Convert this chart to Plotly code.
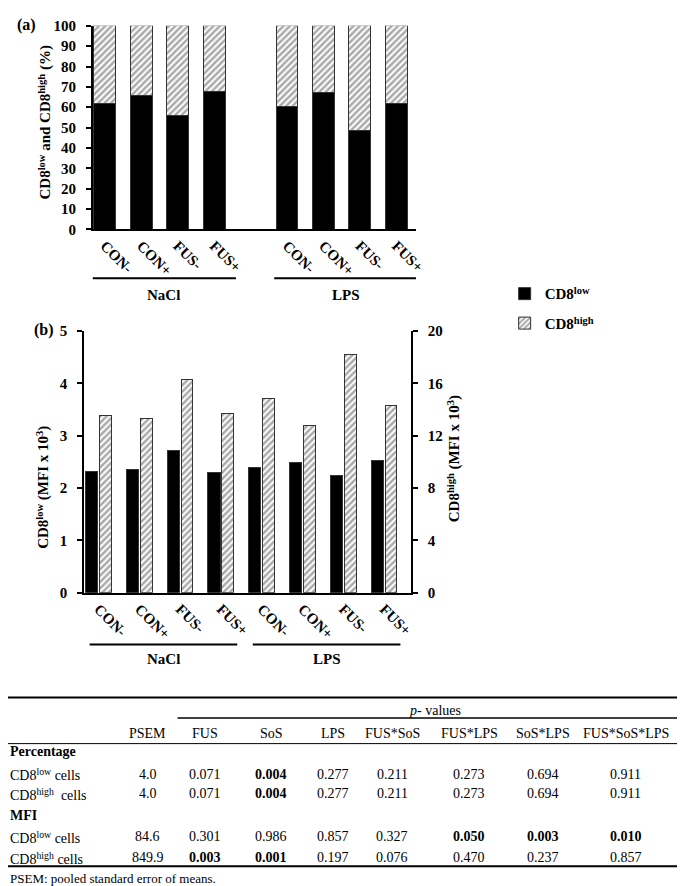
import plotly.graph_objects as go

W, H = 685, 886


def fx(px):
    return px / W


def fy(py):
    return 1 - py / H


def sup(s):
    return f'<span style="font-size:70%;baseline-shift:super">{s}</span>'


# ---------------- data ----------------
groups = ["NaCl", "LPS"]
treatments = ["CON-", "CON+", "FUS-", "FUS+"]

# (a) percentage of CD8 low / high cells (stacked to 100 %)
pct_low = [61.8, 65.7, 55.8, 67.8, 60.6, 67.3, 48.5, 61.9]
pct_high = [38.2, 34.3, 44.2, 32.2, 39.4, 32.7, 51.5, 38.1]

# (b) MFI (x 10^3)
mfi_low = [2.31, 2.35, 2.72, 2.30, 2.39, 2.48, 2.23, 2.53]
mfi_high = [13.5, 13.3, 16.3, 13.7, 14.8, 12.8, 18.2, 14.3]

series_names = ["CD8" + sup("low"), "CD8" + sup("high")]

# table
table_cols = ["PSEM", "FUS", "SoS", "LPS", "FUS*SoS", "FUS*LPS", "SoS*LPS", "FUS*SoS*LPS"]
sections = ["Percentage", "MFI"]
row_labels = ["CD8" + sup("low") + " cells", "CD8" + sup("high") + "  cells",
              "CD8" + sup("low") + " cells", "CD8" + sup("high") + " cells"]
psem = [4.0, 4.0, 84.6, 849.9]
p_values = [
    [0.071, 0.004, 0.277, 0.211, 0.273, 0.694, 0.911],
    [0.071, 0.004, 0.277, 0.211, 0.273, 0.694, 0.911],
    [0.301, 0.986, 0.857, 0.327, 0.050, 0.003, 0.010],
    [0.003, 0.001, 0.197, 0.076, 0.470, 0.237, 0.857],
]
footnote = "PSEM: pooled standard error of means."

# ---------------- styles ----------------
FONT = "Liberation Serif"
FS = 15
BLACK = "#000000"
HATCH = dict(shape="/", fgcolor="#555555", bgcolor="white", size=4.5, solidity=0.55)
OUTLINE = dict(color="#333333", width=1)

labels = [t for g in groups for t in treatments]
# category positions: panel (a) leaves one empty slot between groups
xa = [g * (len(treatments) + 1) + i for g in range(len(groups)) for i in range(len(treatments))]
xb = [g * len(treatments) + i for g in range(len(groups)) for i in range(len(treatments))]

fig = go.Figure()

# panel (a)
fig.add_trace(go.Bar(x=xa, y=pct_low, name=series_names[0], width=0.6,
                     marker=dict(color=BLACK, line=OUTLINE),
                     xaxis="x", yaxis="y", showlegend=False))
fig.add_trace(go.Bar(x=xa, y=pct_high, name=series_names[1], width=0.6,
                     marker=dict(color="white", pattern=HATCH, line=OUTLINE),
                     xaxis="x", yaxis="y", showlegend=False))

# panel (b)
fig.add_trace(go.Bar(x=xb, y=mfi_low, name=series_names[0], width=0.30, offset=-0.318,
                     marker=dict(color=BLACK, line=OUTLINE),
                     xaxis="x2", yaxis="y2", legend="legend"))
fig.add_trace(go.Bar(x=xb, y=mfi_high, name=series_names[1], width=0.29, offset=0.025,
                     marker=dict(color="white", pattern=HATCH, line=OUTLINE),
                     xaxis="x2", yaxis="y3", legend="legend2"))

tickfont = dict(family=FONT, size=FS, color="black", weight="bold")
common_x = dict(showline=True, linecolor="black", linewidth=1.5, ticks="",
                showgrid=False, zeroline=False, tickangle=45, tickfont=tickfont,
                ticktext=labels, tickmode="array")
common_y = dict(showline=True, linecolor="black", linewidth=1.5, ticks="outside",
                ticklen=5, tickwidth=1.5, tickcolor="black", showgrid=False,
                zeroline=False, tickfont=tickfont, ticklabelstandoff=7)
legend_font = dict(family=FONT, size=FS, weight="bold", color="black")

fig.update_layout(
    width=W, height=H,
    margin=dict(l=0, r=0, t=0, b=0),
    paper_bgcolor="white", plot_bgcolor="white",
    barmode="stack",
    font=dict(family=FONT, size=FS, color="black"),
    xaxis=dict(domain=[fx(86), fx(414)], anchor="y", range=[-0.33, 8.54],
               tickvals=xa, **common_x),
    yaxis=dict(domain=[fy(217.3), fy(10)], anchor="x", range=[0, 100], dtick=10,
               **common_y),
    xaxis2=dict(domain=[fx(77), fx(409)], anchor="y2", range=[-0.36, 7.66],
                tickvals=xb, **common_x),
    yaxis2=dict(domain=[fy(587.3), fy(320.7)], anchor="x2", range=[0, 5], dtick=1,
                **common_y),
    yaxis3=dict(overlaying="y2", anchor="x2", side="right", range=[0, 20], dtick=4,
                **common_y),
    legend=dict(x=fx(504), y=fy(283), xanchor="left", yanchor="middle",
                font=legend_font, bgcolor="rgba(0,0,0,0)"),
    legend2=dict(x=fx(504), y=fy(313), xanchor="left", yanchor="middle",
                 font=legend_font, bgcolor="rgba(0,0,0,0)"),
)

shapes = []
annotations = []


def ann(text, x, y, size=FS, bold=False, xanchor="center", yanchor="middle",
        textangle=0, xref="paper"):
    annotations.append(dict(text=text, x=x, y=y, xref=xref, yref="paper",
                            xanchor=xanchor, yanchor=yanchor, showarrow=False,
                            textangle=textangle,
                            font=dict(family=FONT, size=size, color="black",
                                      weight="bold" if bold else "normal")))


# panel labels and axis titles
ann("(a)", fx(7), fy(9), size=16, bold=True, xanchor="left")
ann("(b)", fx(24), fy(320), size=16, bold=True, xanchor="left")
ann("CD8" + sup("low") + " and CD8" + sup("high") + " (%)", fx(37), fy(108),
    bold=True, textangle=-90)
ann("CD8" + sup("low") + " (MFI x 10" + sup("3") + ")", fx(35), fy(480),
    bold=True, textangle=-90)
ann("CD8" + sup("high") + " (MFI x 10" + sup("3") + ")", fx(453), fy(451),
    bold=True, textangle=-90)

# group brackets under the category labels
n = len(treatments)
for xref, pos, lpad, rpad, line_y, label_y in [("x", xa, 0.35, 0.6, 267, 284),
                                                ("x2", xb, 0.22, 0.4, 640, 655)]:
    for g, name in enumerate(groups):
        x0 = pos[g * n] - lpad
        x1 = pos[g * n + n - 1] + rpad
        shapes.append(dict(type="line", xref=xref, yref="paper", x0=x0, x1=x1,
                           y0=fy(line_y), y1=fy(line_y),
                           line=dict(color="black", width=2)))
        ann(name, (x0 + x1) / 2, fy(label_y), bold=True, xref=xref)

# ---------------- table ----------------
col_x = [142, 200, 267, 330, 390, 468, 543, 627]
TS = 14


def hline(x0, x1, y, w):
    shapes.append(dict(type="line", xref="paper", yref="paper", x0=fx(x0), x1=fx(x1),
                       y0=fy(y), y1=fy(y), line=dict(color="black", width=w)))


hline(0, 685, 694, 2)
hline(172, 685, 715, 1.5)
hline(0, 685, 741, 1)
hline(0, 685, 866, 2)

ann("<i>p</i>- values", fx(433), fy(707), size=TS)
for j, c in enumerate(table_cols):
    ann(c, fx(col_x[j]), fy(731), size=TS)

section_y = [749, 814]
row_y = [772, 792, 836, 857]
for s, name in enumerate(sections):
    ann(name, fx(0), fy(section_y[s]), size=TS, bold=True, xanchor="left")
for r, lab in enumerate(row_labels):
    ann(lab, fx(0), fy(row_y[r]), size=TS, xanchor="left")
    ann(f"{psem[r]:.1f}", fx(col_x[0]), fy(row_y[r]), size=TS)
    for j, v in enumerate(p_values[r]):
        ann(f"{v:.3f}", fx(col_x[j + 1]), fy(row_y[r]), size=TS, bold=v <= 0.05)

ann(footnote, fx(0), fy(878), size=13, xanchor="left")

fig.update_layout(shapes=shapes, annotations=annotations)
fig.write_html("out.html")
